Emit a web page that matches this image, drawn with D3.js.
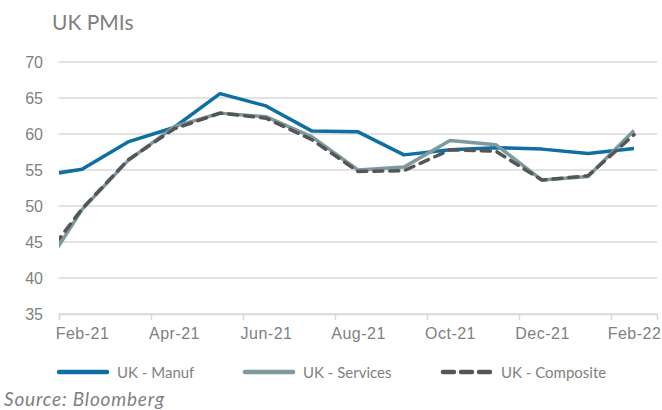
<!DOCTYPE html>
<html>
<head>
<meta charset="utf-8">
<script src="https://cdn.jsdelivr.net/npm/d3@7"></script>
<style>
  body { margin: 0; background: #fff; }
  svg { display: block; font-family: Lato, "Noto Sans", sans-serif; }
  .grid line { stroke: #d9d9d9; stroke-width: 1.5; }
  .axis text { fill: #7f7f7f; font-size: 16px; }
</style>
</head>
<body>
<div id="chart"></div>
<script>
// Months of data (Jan-21 runs off the left edge and is clipped, as in the original)
const months = ['Jan-21', 'Feb-21', 'Mar-21', 'Apr-21', 'May-21', 'Jun-21', 'Jul-21',
  'Aug-21', 'Sep-21', 'Oct-21', 'Nov-21', 'Dec-21', 'Jan-22', 'Feb-22'];
const manuf = [54.1, 55.1, 58.9, 60.9, 65.6, 63.9, 60.4, 60.3, 57.1, 57.8, 58.1, 57.9, 57.3, 58.0];
const services = [39.5, 49.5, 56.3, 61.0, 62.9, 62.4, 59.6, 55.0, 55.4, 59.1, 58.5, 53.6, 54.1, 60.5];
const composite = [41.2, 49.6, 56.4, 60.7, 62.9, 62.2, 59.2, 54.8, 54.9, 57.8, 57.6, 53.6, 54.2, 59.9];
const xTickLabels = ['Feb-21', 'Apr-21', 'Jun-21', 'Aug-21', 'Oct-21', 'Dec-21', 'Feb-22'];
const yTicks = [35, 40, 45, 50, 55, 60, 65, 70];

const series = [
  { name: 'UK - Manuf', values: manuf, color: '#0f6fa3', dash: null },
  { name: 'UK - Services', values: services, color: '#7e9a9f', dash: null },
  { name: 'UK - Composite', values: composite, color: '#555555', dash: '9,7' },
];

const W = 662;
const H = 410;
const margin = { top: 62, right: 5, bottom: 96, left: 59 };
const width = W - margin.left - margin.right;
const height = H - margin.top - margin.bottom;

const svg = d3.select('#chart')
  .append('svg')
  .attr('width', W)
  .attr('height', H);

// Title
svg.append('text')
  .attr('x', 52)
  .attr('y', 30)
  .attr('fill', '#7f7f7f')
  .style('font-size', '21px')
  .text('UK PMIs');

const g = svg.append('g')
  .attr('transform', `translate(${margin.left}, ${margin.top})`);

// x: month index from Feb-21 (0) to Mar-22 (13); points sit mid-month
const monthIdx = d3.scaleLinear().domain([0, 13]).range([0, width]);
const startIdx = months.indexOf('Feb-21');
const xPos = i => monthIdx(i - startIdx + 0.5);
const y = d3.scaleLinear().domain([35, 70]).range([height, 0]);

// Gridlines
g.append('g')
  .attr('class', 'grid')
  .selectAll('line')
  .data(yTicks)
  .join('line')
  .attr('x1', 0)
  .attr('x2', width)
  .attr('y1', d => y(d))
  .attr('y2', d => y(d));

// Y axis
const yAxis = d3.axisLeft(y).tickValues(yTicks).tickSize(0).tickPadding(16);
g.append('g')
  .attr('class', 'axis')
  .call(yAxis)
  .call(a => a.select('.domain').remove());

// X axis - tick marks at month starts, labels centred under the month
const xTickIdx = xTickLabels.map(l => months.indexOf(l) - startIdx);
const halfMonth = monthIdx(0.5) - monthIdx(0);
const xAxis = d3.axisBottom(monthIdx)
  .tickValues(xTickIdx)
  .tickFormat((d, i) => xTickLabels[i])
  .tickSize(6)
  .tickPadding(8);
g.append('g')
  .attr('class', 'axis')
  .attr('transform', `translate(0, ${height})`)
  .call(xAxis)
  .call(a => a.select('.domain').attr('stroke', '#d9d9d9').attr('stroke-width', 1.5))
  .call(a => a.selectAll('.tick line').attr('stroke', '#d9d9d9').attr('stroke-width', 1.5))
  .call(a => a.selectAll('.tick text')
    .attr('x', halfMonth)
    .style('letter-spacing', '0.5px'));

// Clip
g.append('clipPath')
  .attr('id', 'plot-clip')
  .append('rect')
  .attr('x', 0)
  .attr('y', -10)
  .attr('width', width)
  .attr('height', height + 20);

const line = d3.line()
  .x((d, i) => xPos(i))
  .y(d => y(d));

g.append('g')
  .attr('clip-path', 'url(#plot-clip)')
  .selectAll('path')
  .data(series)
  .join('path')
  .attr('d', d => line(d.values))
  .attr('fill', 'none')
  .attr('stroke', d => d.color)
  .attr('stroke-width', 3.5)
  .attr('stroke-linejoin', 'round')
  .attr('stroke-linecap', d => (d.dash ? 'round' : 'butt'))
  .attr('stroke-dasharray', d => d.dash);

// Legend
const legendX = [57, 243, 441];
const legend = svg.append('g')
  .selectAll('g')
  .data(series)
  .join('g')
  .attr('transform', (d, i) => `translate(${legendX[i]}, 372)`);

legend.append('line')
  .attr('x1', 2)
  .attr('x2', 50)
  .attr('stroke', d => d.color)
  .attr('stroke-width', 4.5)
  .attr('stroke-linecap', 'round')
  .attr('stroke-dasharray', d => (d.dash ? '11,7' : null));

legend.append('text')
  .attr('x', 60)
  .attr('y', 5.5)
  .attr('fill', '#7f7f7f')
  .style('font-size', '15px')
  .text(d => d.name);

// Source
svg.append('text')
  .attr('x', 4)
  .attr('y', 406)
  .attr('fill', '#7f7f7f')
  .style('font-size', '19px')
  .style('font-style', 'italic')
  .style('letter-spacing', '0.8px')
  .text('Source: Bloomberg');
</script>
</body>
</html>
